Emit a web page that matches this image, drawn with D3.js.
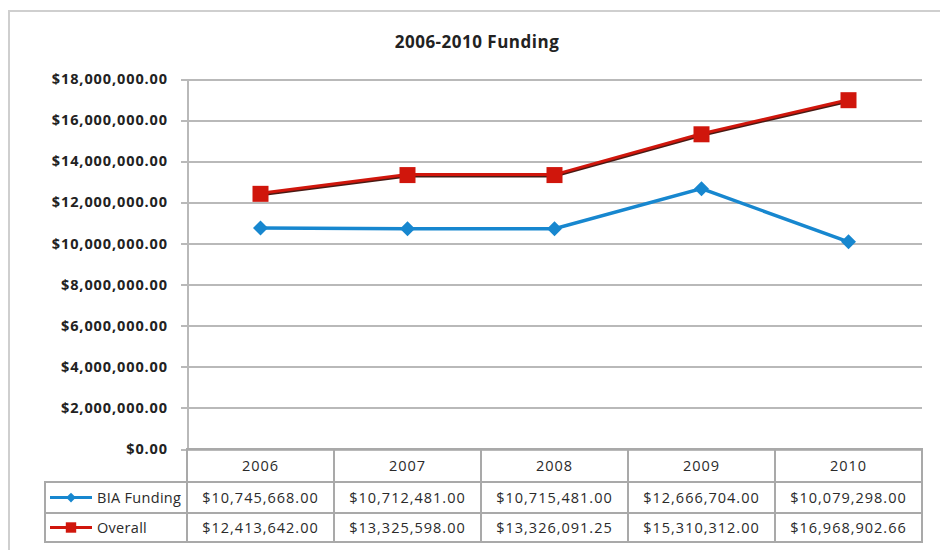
<!DOCTYPE html>
<html lang="en">
<head>
    <meta charset="UTF-8">
    <title>2006-2010 Funding</title>
    <style>
        body { margin: 0; background: #fff; }
        svg text { font-family: "Open Sans", sans-serif; fill: #222; }
        .grid line { stroke: #b9b9b9; stroke-width: 2px; shape-rendering: crispEdges; }
        .grid path { stroke-width: 0; }
        .axisY path, .axisY line { stroke: #b9b9b9; stroke-width: 2px; shape-rendering: crispEdges; }
        .axisY text { font-size: 14.5px; font-weight: bold; letter-spacing: 0.9px; }
        .cell { fill: none; stroke: #a9a9a9; stroke-width: 2px; shape-rendering: crispEdges; }
        .tbl { font-size: 14.5px; letter-spacing: 1px; fill: #2a2a2a; }
        .tbl.key { letter-spacing: 0.3px; }
    </style>
</head>
<body>
<script src="https://d3js.org/d3.v7.min.js"></script>
<script>
    // data
    var years = ["2006", "2007", "2008", "2009", "2010"];
    var biaFunding = [10745668.00, 10712481.00, 10715481.00, 12666704.00, 10079298.00];
    var overall = [12413642.00, 13325598.00, 13326091.25, 15310312.00, 16968902.66];
    var seriesNames = ["BIA Funding", "Overall"];
    var yTicks = [0, 2e6, 4e6, 6e6, 8e6, 10e6, 12e6, 14e6, 16e6, 18e6];

    var W = 940, H = 550;
    var plot = { left: 187, right: 922, top: 79, bottom: 449 };
    var rowH = [33, 31, 29];
    var tableLeft = 45;

    var fmt = d3.format("$,.2f");

    var svg = d3.select("body").append("svg")
        .attr("width", W)
        .attr("height", H);

    // chart frame
    svg.append("rect")
        .attr("x", 9).attr("y", 11)
        .attr("width", 960).attr("height", 560)
        .attr("fill", "none")
        .attr("stroke", "#cfcfcf")
        .attr("stroke-width", 2);

    svg.append("text")
        .attr("x", 477).attr("y", 48)
        .attr("text-anchor", "middle")
        .style("font-size", "17px")
        .style("font-weight", "bold")
        .style("letter-spacing", "0.5px")
        .text("2006-2010 Funding");

    var x = d3.scaleBand().domain(years).range([plot.left, plot.right]);
    var y = d3.scaleLinear().domain([0, 18e6]).range([plot.bottom, plot.top]);
    var cx = function (d) { return x(d) + x.bandwidth() / 2; };

    // gridlines
    svg.append("g")
        .attr("class", "grid")
        .attr("transform", "translate(" + plot.left + ",0)")
        .call(d3.axisLeft(y).tickValues(yTicks).tickSize(-(plot.right - plot.left)).tickFormat(""));

    // y axis
    svg.append("g")
        .attr("class", "axisY")
        .attr("transform", "translate(" + plot.left + ",0)")
        .call(d3.axisLeft(y).tickValues(yTicks).tickSize(6).tickSizeOuter(0).tickPadding(13).tickFormat(fmt));

    // data table
    var rowTop = [plot.bottom, plot.bottom + rowH[0], plot.bottom + rowH[0] + rowH[1]];
    var tbl = svg.append("g");
    years.forEach(function (yr) {
        tbl.append("rect").attr("class", "cell")
            .attr("x", x(yr)).attr("y", rowTop[0])
            .attr("width", x.bandwidth()).attr("height", rowH[0] + rowH[1] + rowH[2]);
    });
    [1, 2].forEach(function (r) {
        tbl.append("rect").attr("class", "cell")
            .attr("x", tableLeft).attr("y", rowTop[r])
            .attr("width", plot.right - tableLeft).attr("height", rowH[r]);
    });

    tbl.selectAll(".hdr").data(years).enter().append("text")
        .attr("class", "tbl")
        .attr("x", cx)
        .attr("y", rowTop[0] + rowH[0] / 2 + 5)
        .attr("text-anchor", "middle")
        .text(function (d) { return d; });

    var series = [
        { name: seriesNames[0], values: biaFunding, color: "#1787cf", marker: "diamond" },
        { name: seriesNames[1], values: overall, color: "#d0160c", marker: "square" }
    ];

    series.forEach(function (s, i) {
        var ry = rowTop[i + 1] + rowH[i + 1] / 2;
        tbl.selectAll(".v" + i).data(s.values).enter().append("text")
            .attr("class", "tbl")
            .attr("x", function (d, j) { return cx(years[j]); })
            .attr("y", ry + 5)
            .attr("text-anchor", "middle")
            .text(fmt);

        // legend key
        tbl.append("line")
            .attr("x1", 50).attr("x2", 92).attr("y1", ry).attr("y2", ry)
            .attr("stroke", s.color).attr("stroke-width", 3);
        drawMarker(tbl, s, 71, ry, 0.65);
        tbl.append("text").attr("class", "tbl key")
            .attr("x", 97).attr("y", ry + 5)
            .text(s.name);
    });

    function drawMarker(g, s, px, py, k) {
        if (s.marker === "square") {
            var a = 16 * k;
            g.append("rect")
                .attr("x", px - a / 2).attr("y", py - a / 2)
                .attr("width", a).attr("height", a)
                .attr("fill", s.color);
        } else {
            var r = 7.5 * k;
            g.append("path")
                .attr("d", "M" + px + "," + (py - r) + "L" + (px + r) + "," + py +
                    "L" + px + "," + (py + r) + "L" + (px - r) + "," + py + "Z")
                .attr("fill", s.color);
        }
    }

    // lines
    var line = d3.line()
        .x(function (d, j) { return cx(years[j]); })
        .y(function (d) { return y(d); });

    // shadow under the red line
    svg.append("path")
        .datum(overall)
        .attr("d", line)
        .attr("transform", "translate(0,1)")
        .attr("fill", "none")
        .attr("stroke", "#4a1a14")
        .attr("stroke-width", 3);

    series.forEach(function (s) {
        svg.append("path")
            .datum(s.values)
            .attr("d", line)
            .attr("fill", "none")
            .attr("stroke", s.color)
            .attr("stroke-width", s.marker === "square" ? 3 : 3.5)
            .attr("transform", s.marker === "square" ? "translate(0,-0.5)" : null);
        s.values.forEach(function (v, j) {
            drawMarker(svg, s, cx(years[j]), y(v), 1);
        });
    });
</script>
</body>
</html>
